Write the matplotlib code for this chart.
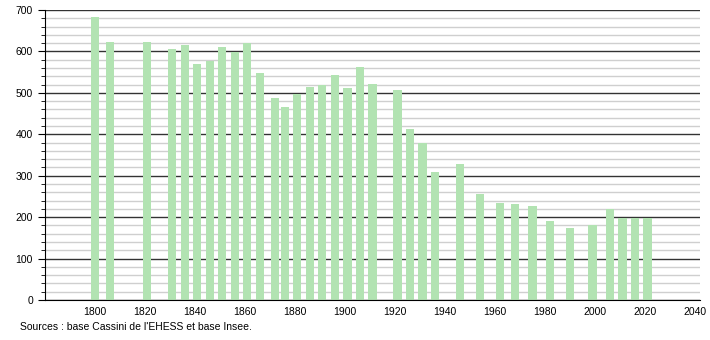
import matplotlib.pyplot as plt
from matplotlib.ticker import MultipleLocator

plt.rcParams['font.family'] = ['Liberation Sans', 'DejaVu Sans']

# census years and population
years = [1800, 1806, 1821, 1831, 1836, 1841, 1846, 1851, 1856, 1861,
         1866, 1872, 1876, 1881, 1886, 1891, 1896, 1901, 1906, 1911,
         1921, 1926, 1931, 1936, 1946, 1954, 1962, 1968, 1975, 1982,
         1990, 1999, 2006, 2011, 2016, 2021]
population = [684, 623, 622, 606, 616, 570, 577, 611, 599, 621,
              547, 488, 466, 497, 514, 519, 543, 512, 562, 522,
              507, 413, 379, 309, 328, 256, 234, 232, 227, 191,
              174, 181, 220, 198, 198, 198]
source = "Sources : base Cassini de l'EHESS et base Insee."

fig = plt.figure(figsize=(7.1, 3.4), dpi=100)
ax = fig.add_axes([0.063, 0.1176, 0.923, 0.853])

ax.bar(years, population, width=3.3, color='#b2e3b2', zorder=3)

ax.set_xlim(1780, 2042)
ax.set_ylim(0, 700)
ax.set_xticks(range(1800, 2041, 20))
ax.yaxis.set_major_locator(MultipleLocator(100))
ax.yaxis.set_minor_locator(MultipleLocator(20))
ax.grid(axis='y', which='minor', color='#cfcfcf', lw=1, zorder=1)
ax.grid(axis='y', which='major', color='#333333', lw=1, zorder=2)
ax.tick_params(axis='x', length=0, labelsize=7.5, pad=5)
ax.tick_params(axis='y', which='major', length=5, labelsize=7.5)
ax.tick_params(axis='y', which='minor', length=3)
for s in ['top', 'right']:
    ax.spines[s].set_visible(False)
for s in ['left', 'bottom']:
    ax.spines[s].set_color('black')
    ax.spines[s].set_zorder(4)

fig.text(0.028, 0.038, source, fontsize=7.5, ha='left', va='center')

fig.savefig('out.png', dpi=100)
